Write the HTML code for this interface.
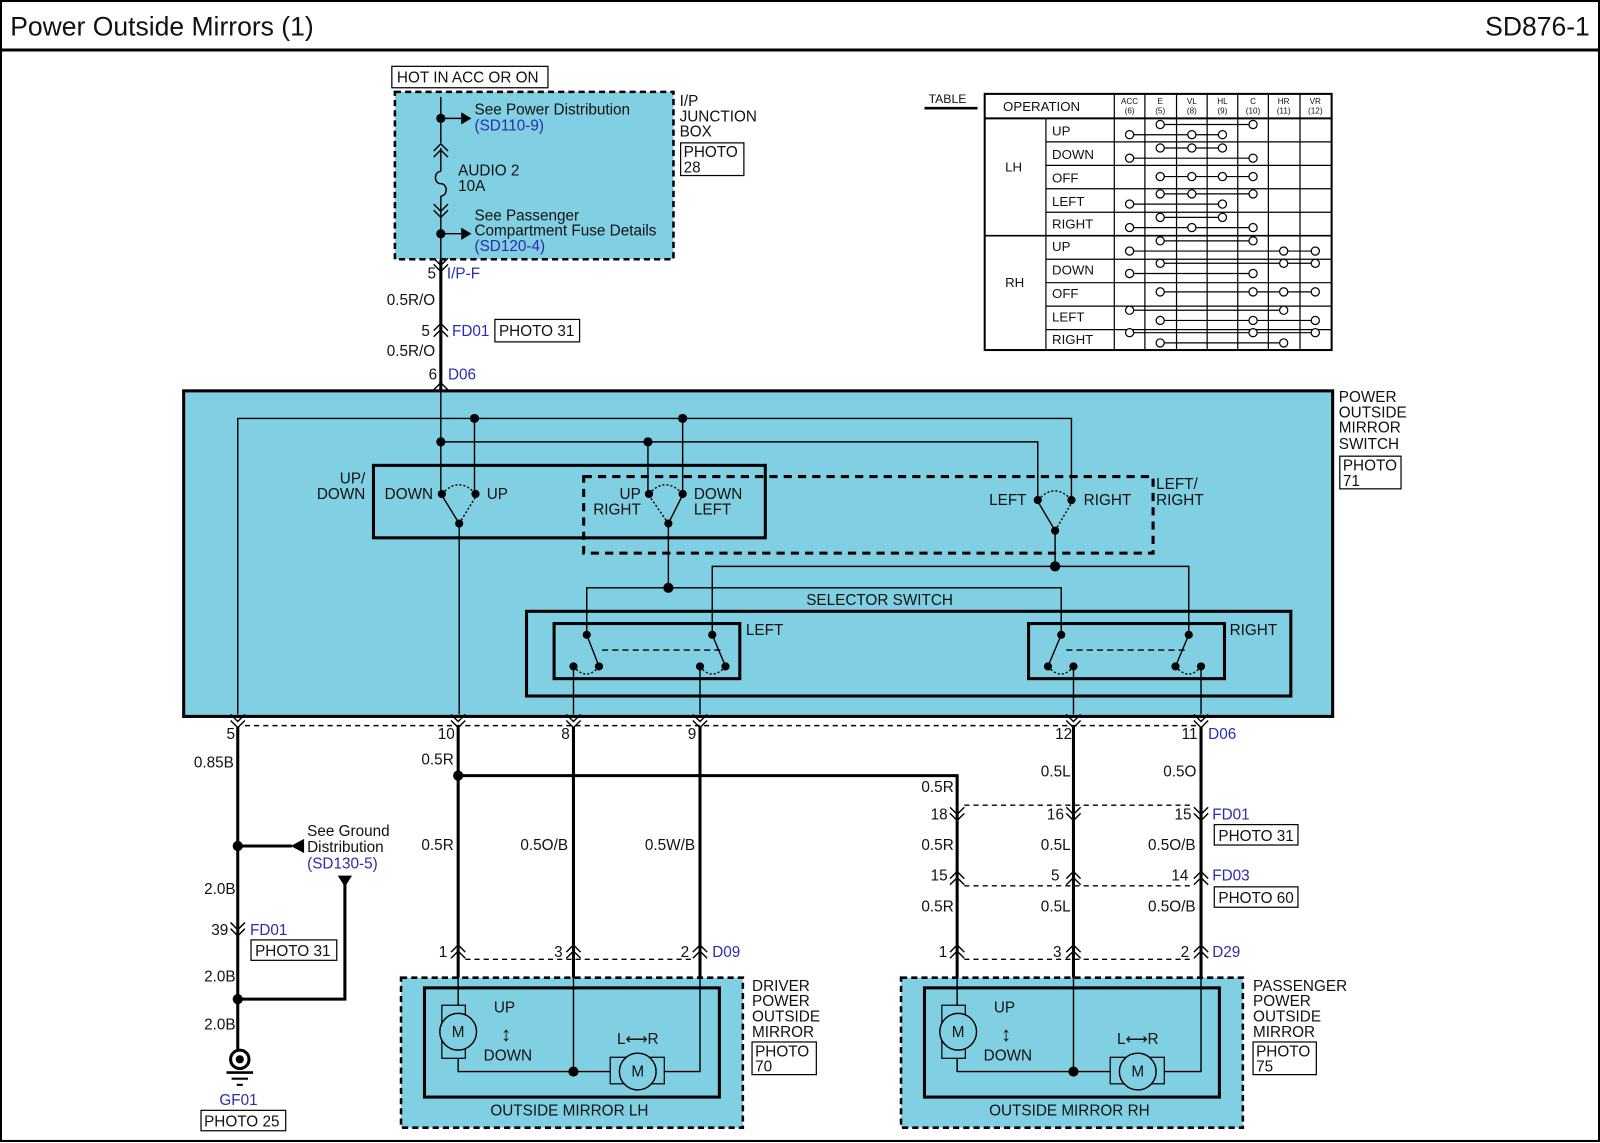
<!DOCTYPE html>
<html><head><meta charset="utf-8"><style>
html,body{margin:0;padding:0;background:#fff}
svg{display:block}
text{font-family:"Liberation Sans",Arial,sans-serif;font-size:15px;fill:#111}
.b{fill:#2b2bb0}
.t{stroke:#000;stroke-width:3;fill:none}
.n{stroke:#000;stroke-width:1.4;fill:none}
.dot{fill:#000}
.oc{fill:#fff;stroke:#000;stroke-width:1.2}
</style></head><body>
<svg width="1600" height="1143" viewBox="0 0 1568 1120" preserveAspectRatio="none" xmlns="http://www.w3.org/2000/svg">
<defs>
<g id="cu"><polyline points="-7,6 0,-1 7,6" class="n" stroke-width="1.6"/><polyline points="-7,12 0,5 7,12" class="n" stroke-width="1.6"/></g>
<g id="cd"><polyline points="-7,-6 0,1 7,-6" class="n" stroke-width="1.6"/><polyline points="-7,-12 0,-5 7,-12" class="n" stroke-width="1.6"/></g>
</defs>
<rect x="0" y="0" width="1568" height="1120" fill="#fff"/>
<rect x="1" y="1" width="1566" height="1117" fill="none" stroke="#000" stroke-width="2"/>
<text x="10" y="35" style="font-size:26px">Power Outside Mirrors (1)</text>
<text x="1558" y="35" text-anchor="end" style="font-size:26px">SD876-1</text>
<line x1="0" y1="49" x2="1568" y2="49" stroke="#000" stroke-width="3"/>

<rect x="384" y="65" width="153" height="21" fill="#fff" stroke="#000" stroke-width="1.2"/>
<text x="389" y="81">HOT IN ACC OR ON</text>
<rect x="387" y="90" width="273" height="164" fill="#80cfe2" stroke="#000" stroke-width="2.5" stroke-dasharray="6,4"/>
<text x="666" y="104">I/P</text><text x="666" y="119">JUNCTION</text><text x="666" y="134">BOX</text>
<rect x="667" y="140" width="62" height="32" fill="#fff" stroke="#000" stroke-width="1.2"/>
<text x="670" y="154">PHOTO</text><text x="670" y="169">28</text>
<line x1="432" y1="95" x2="432" y2="140" class="n"/>
<circle cx="432" cy="116" r="4.5" class="dot"/>
<line x1="432" y1="116" x2="452" y2="116" class="n"/><polygon points="452,110 462,116 452,122" class="dot"/>
<text x="465" y="112">See Power Distribution</text><text x="465" y="128" class="b">(SD110-9)</text>
<use href="#cu" x="432" y="142"/>
<line x1="432" y1="145" x2="432" y2="168" class="n"/>
<path d="M432,168 c-7,0 -7,12 0,12 c7,0 7,12 0,12" class="n"/>
<line x1="432" y1="192" x2="432" y2="255" class="n"/>
<use href="#cd" x="432" y="212"/>
<text x="449" y="172">AUDIO 2</text><text x="449" y="187">10A</text>
<circle cx="432" cy="229" r="4.5" class="dot"/>
<line x1="432" y1="229" x2="452" y2="229" class="n"/><polygon points="452,223 462,229 452,235" class="dot"/>
<text x="465" y="216">See Passenger</text><text x="465" y="231">Compartment Fuse Details</text><text x="465" y="246" class="b">(SD120-4)</text>
<use href="#cd" x="432" y="265"/>
<line x1="432" y1="255" x2="432" y2="383" class="t"/>
<text x="419" y="273">5</text><text x="438" y="273" class="b">I/P-F</text>
<text x="379" y="299">0.5R/O</text>
<use href="#cu" x="432" y="318"/>
<text x="413" y="329">5</text><text x="443" y="329" class="b">FD01</text>
<rect x="485" y="313" width="83" height="22" fill="#fff" stroke="#000" stroke-width="1.2"/><text x="489" y="329">PHOTO 31</text>
<text x="379" y="349">0.5R/O</text>
<use href="#cu" x="432" y="376"/>
<text x="420" y="372">6</text><text x="439" y="372" class="b">D06</text>

<rect x="180" y="383" width="1126" height="319" fill="#80cfe2" stroke="#000" stroke-width="3"/>
<text x="1312" y="394">POWER</text><text x="1312" y="409">OUTSIDE</text><text x="1312" y="424">MIRROR</text><text x="1312" y="440">SWITCH</text>
<rect x="1313" y="447" width="60" height="32" fill="#fff" stroke="#000" stroke-width="1.2"/>
<text x="1316" y="461">PHOTO</text><text x="1316" y="476">71</text>

<polyline points="233,700 233,410 1050,410 1050,490" class="n"/>
<polyline points="432,383 432,484" class="n"/>
<polyline points="432,433 1017,433 1017,490" class="n"/>
<line x1="465" y1="410" x2="465" y2="484" class="n"/>
<line x1="635" y1="433" x2="635" y2="484" class="n"/>
<line x1="669" y1="410" x2="669" y2="484" class="n"/>
<circle cx="465" cy="410" r="4.5" class="dot"/><circle cx="669" cy="410" r="4.5" class="dot"/>
<circle cx="432" cy="433" r="4.5" class="dot"/><circle cx="635" cy="433" r="4.5" class="dot"/>

<rect x="366" y="456" width="384" height="71" fill="none" stroke="#000" stroke-width="3"/>
<rect x="572" y="467" width="558" height="75" fill="none" stroke="#000" stroke-width="3" stroke-dasharray="8,6"/>
<text x="358" y="474" text-anchor="end">UP/</text><text x="358" y="480" text-anchor="end" dy="9">DOWN</text>
<text x="1133" y="479">LEFT/</text><text x="1133" y="495">RIGHT</text>
<text x="377" y="489">DOWN</text><text x="477" y="489">UP</text>
<circle cx="433" cy="484" r="4" class="dot"/><circle cx="466" cy="484" r="4" class="dot"/><circle cx="450" cy="513" r="4" class="dot"/>
<line x1="450" y1="513" x2="434" y2="487" class="n"/>
<path d="M450,513 L466,487 M433,484 Q450,466 466,484" class="n" stroke-dasharray="2,2"/>
<line x1="450" y1="513" x2="450" y2="700" class="n"/>
<text x="628" y="489" text-anchor="end">UP</text><text x="628" y="504" text-anchor="end">RIGHT</text>
<text x="680" y="489">DOWN</text><text x="680" y="504">LEFT</text>
<circle cx="636" cy="484" r="4" class="dot"/><circle cx="669" cy="484" r="4" class="dot"/><circle cx="655" cy="513" r="4" class="dot"/>
<line x1="655" y1="513" x2="668" y2="487" class="n"/>
<path d="M655,513 L637,487 M636,484 Q652,466 669,484" class="n" stroke-dasharray="2,2"/>
<line x1="655" y1="513" x2="655" y2="576" class="n"/>
<text x="1006" y="495" text-anchor="end">LEFT</text><text x="1062" y="495">RIGHT</text>
<circle cx="1017" cy="490" r="4" class="dot"/><circle cx="1050" cy="490" r="4" class="dot"/><circle cx="1034" cy="520" r="4" class="dot"/>
<line x1="1034" y1="520" x2="1018" y2="493" class="n"/>
<path d="M1034,520 L1050,493 M1017,490 Q1034,472 1050,490" class="n" stroke-dasharray="2,2"/>
<line x1="1034" y1="520" x2="1034" y2="555" class="n"/>

<polyline points="575,622 575,576 1040,576 1040,622" class="n"/>
<polyline points="698,622 698,555 1165,555 1165,622" class="n"/>
<circle cx="655" cy="576" r="5" class="dot"/><circle cx="1034" cy="555" r="5" class="dot"/>

<text x="862" y="593" text-anchor="middle">SELECTOR SWITCH</text>
<rect x="516" y="599" width="749" height="83" fill="none" stroke="#000" stroke-width="3"/>
<rect x="543" y="611" width="182" height="54" fill="none" stroke="#000" stroke-width="3"/>
<rect x="1008" y="611" width="192" height="54" fill="none" stroke="#000" stroke-width="3"/>
<text x="731" y="622">LEFT</text><text x="1205" y="622">RIGHT</text>
<line x1="590" y1="637" x2="706" y2="637" class="n" stroke-dasharray="6,4"/>
<line x1="1045" y1="637" x2="1162" y2="637" class="n" stroke-dasharray="6,4"/>
<g>
<circle cx="575" cy="622" r="4" class="dot"/><circle cx="562" cy="653" r="4" class="dot"/><circle cx="587" cy="653" r="4" class="dot"/>
<line x1="575" y1="622" x2="587" y2="653" class="n"/><path d="M562,653 Q575,668 587,653" class="n" stroke-dasharray="2,2"/>
<circle cx="698" cy="622" r="4" class="dot"/><circle cx="686" cy="653" r="4" class="dot"/><circle cx="711" cy="653" r="4" class="dot"/>
<line x1="698" y1="622" x2="711" y2="653" class="n"/><path d="M686,653 Q698,668 711,653" class="n" stroke-dasharray="2,2"/>
<circle cx="1040" cy="622" r="4" class="dot"/><circle cx="1027" cy="653" r="4" class="dot"/><circle cx="1052" cy="653" r="4" class="dot"/>
<line x1="1040" y1="622" x2="1027" y2="653" class="n"/><path d="M1027,653 Q1040,668 1052,653" class="n" stroke-dasharray="2,2"/>
<circle cx="1165" cy="622" r="4" class="dot"/><circle cx="1152" cy="653" r="4" class="dot"/><circle cx="1177" cy="653" r="4" class="dot"/>
<line x1="1165" y1="622" x2="1152" y2="653" class="n"/><path d="M1152,653 Q1165,668 1177,653" class="n" stroke-dasharray="2,2"/>
</g>
<line x1="562" y1="653" x2="562" y2="700" class="n"/><line x1="686" y1="653" x2="686" y2="700" class="n"/>
<line x1="1052" y1="653" x2="1052" y2="700" class="n"/><line x1="1177" y1="653" x2="1177" y2="700" class="n"/>

<line x1="240" y1="711" x2="1172" y2="711" class="n" stroke-dasharray="5,4"/>
<use href="#cd" x="233" y="712"/><use href="#cd" x="449" y="712"/><use href="#cd" x="562" y="712"/><use href="#cd" x="686" y="712"/><use href="#cd" x="1052" y="712"/><use href="#cd" x="1177" y="712"/>
<text x="222" y="724">5</text><text x="429" y="724">10</text><text x="550" y="724">8</text><text x="674" y="724">9</text><text x="1034" y="724">12</text><text x="1158" y="724">11</text><text x="1184" y="724" class="b">D06</text>

<line x1="233" y1="712" x2="233" y2="1028" class="t"/>
<text x="190" y="752">0.85B</text>
<circle cx="233" cy="829" r="5" class="dot"/>
<line x1="233" y1="829" x2="286" y2="829" class="t"/><polygon points="298,822 285,829 298,836" class="dot"/>
<text x="301" y="819">See Ground</text><text x="301" y="835">Distribution</text><text x="301" y="851" class="b">(SD130-5)</text>
<polygon points="331,858 345,858 338,869" class="dot"/>
<polyline points="338,866 338,979 233,979" class="t"/>
<circle cx="233" cy="979" r="5" class="dot"/>
<text x="200" y="876">2.0B</text>
<use href="#cd" x="233" y="916"/>
<text x="207" y="916">39</text><text x="245" y="916" class="b">FD01</text>
<rect x="246" y="921" width="84" height="20" fill="#fff" stroke="#000" stroke-width="1.2"/><text x="250" y="937">PHOTO 31</text>
<text x="200" y="962">2.0B</text><text x="200" y="1009">2.0B</text>
<circle cx="235" cy="1038" r="9" fill="none" stroke="#000" stroke-width="3"/><circle cx="235" cy="1038" r="4" class="dot"/>
<line x1="222" y1="1051" x2="248" y2="1051" stroke="#000" stroke-width="2.5"/>
<line x1="227" y1="1057" x2="243" y2="1057" stroke="#000" stroke-width="2"/>
<line x1="232" y1="1063" x2="238" y2="1063" stroke="#000" stroke-width="2"/>
<text x="215" y="1083" class="b">GF01</text>
<rect x="197" y="1088" width="83" height="20" fill="#fff" stroke="#000" stroke-width="1.2"/><text x="200" y="1104">PHOTO 25</text>

<line x1="449" y1="712" x2="449" y2="925" class="t"/>
<line x1="562" y1="712" x2="562" y2="925" class="t"/>
<line x1="686" y1="712" x2="686" y2="925" class="t"/>
<circle cx="449" cy="760" r="5" class="dot"/>
<polyline points="449,760 938,760 938,790" class="t"/>
<text x="413" y="749">0.5R</text><text x="413" y="833">0.5R</text><text x="510" y="833">0.5O/B</text><text x="632" y="833">0.5W/B</text>
<use href="#cu" x="449" y="927"/><use href="#cu" x="562" y="927"/><use href="#cu" x="686" y="927"/>
<line x1="456" y1="940" x2="680" y2="940" class="n" stroke-dasharray="5,4"/>
<text x="430" y="938">1</text><text x="543" y="938">3</text><text x="667" y="938">2</text><text x="698" y="938" class="b">D09</text>

<line x1="938" y1="790" x2="938" y2="925" class="t"/>
<line x1="1052" y1="712" x2="1052" y2="925" class="t"/>
<line x1="1177" y1="712" x2="1177" y2="925" class="t"/>
<text x="903" y="776">0.5R</text><text x="1020" y="761">0.5L</text><text x="1140" y="761">0.5O</text>
<use href="#cd" x="938" y="803"/><use href="#cd" x="1052" y="803"/><use href="#cd" x="1177" y="803"/>
<line x1="945" y1="789" x2="1170" y2="789" class="n" stroke-dasharray="5,4"/>
<text x="912" y="803">18</text><text x="1026" y="803">16</text><text x="1151" y="803">15</text><text x="1188" y="803" class="b">FD01</text>
<rect x="1190" y="808" width="82" height="20" fill="#fff" stroke="#000" stroke-width="1.2"/><text x="1194" y="824">PHOTO 31</text>
<text x="903" y="833">0.5R</text><text x="1020" y="833">0.5L</text><text x="1125" y="833">0.5O/B</text>
<use href="#cu" x="938" y="855"/><use href="#cu" x="1052" y="855"/><use href="#cu" x="1177" y="855"/>
<line x1="945" y1="868" x2="1170" y2="868" class="n" stroke-dasharray="5,4"/>
<text x="912" y="863">15</text><text x="1030" y="863">5</text><text x="1148" y="863">14</text><text x="1188" y="863" class="b">FD03</text>
<rect x="1190" y="869" width="82" height="20" fill="#fff" stroke="#000" stroke-width="1.2"/><text x="1194" y="885">PHOTO 60</text>
<text x="903" y="893">0.5R</text><text x="1020" y="893">0.5L</text><text x="1125" y="893">0.5O/B</text>
<use href="#cu" x="938" y="927"/><use href="#cu" x="1052" y="927"/><use href="#cu" x="1177" y="927"/>
<line x1="945" y1="940" x2="1170" y2="940" class="n" stroke-dasharray="5,4"/>
<text x="920" y="938">1</text><text x="1032" y="938">3</text><text x="1157" y="938">2</text><text x="1188" y="938" class="b">D29</text>

<rect x="393" y="958" width="335" height="147" fill="#80cfe2" stroke="#000" stroke-width="2.5" stroke-dasharray="6,4"/>
<rect x="416" y="968" width="289" height="107" fill="none" stroke="#000" stroke-width="3"/>
<line x1="449" y1="925" x2="449" y2="958" class="t"/>
<line x1="562" y1="925" x2="562" y2="958" class="t"/>
<line x1="686" y1="925" x2="686" y2="958" class="t"/>
<polyline points="449,958 449,985" class="n"/>
<rect x="433" y="985" width="23" height="52" fill="none" stroke="#000" stroke-width="1.2"/>
<circle cx="449" cy="1011" r="18" fill="#80cfe2" stroke="#000" stroke-width="1.4"/><text x="449" y="1016" text-anchor="middle">M</text>
<polyline points="449,1037 449,1050 598,1050" class="n"/>
<line x1="562" y1="958" x2="562" y2="1050" class="n"/><circle cx="562" cy="1050" r="5" class="dot"/>
<rect x="598" y="1036" width="53" height="26" fill="none" stroke="#000" stroke-width="1.2"/>
<circle cx="625" cy="1050" r="18" fill="#80cfe2" stroke="#000" stroke-width="1.4"/><text x="625" y="1055" text-anchor="middle">M</text>
<polyline points="651,1050 686,1050 686,958" class="n"/>
<text x="484" y="992">UP</text><text x="474" y="1039">DOWN</text><text x="496" y="1020" text-anchor="middle" style="font-size:20px">↕</text>
<text x="625" y="1023" text-anchor="middle">L⟷R</text>
<text x="558" y="1093" text-anchor="middle">OUTSIDE MIRROR LH</text>
<text x="737" y="971">DRIVER</text><text x="737" y="986">POWER</text><text x="737" y="1001">OUTSIDE</text><text x="737" y="1016">MIRROR</text>
<rect x="737" y="1021" width="63" height="32" fill="#fff" stroke="#000" stroke-width="1.2"/><text x="740" y="1035">PHOTO</text><text x="740" y="1050">70</text>

<rect x="883" y="958" width="335" height="147" fill="#80cfe2" stroke="#000" stroke-width="2.5" stroke-dasharray="6,4"/>
<rect x="906" y="968" width="289" height="107" fill="none" stroke="#000" stroke-width="3"/>
<line x1="938" y1="925" x2="938" y2="958" class="t"/>
<line x1="1052" y1="925" x2="1052" y2="958" class="t"/>
<line x1="1177" y1="925" x2="1177" y2="958" class="t"/>
<polyline points="938,958 938,985" class="n"/>
<rect x="923" y="985" width="23" height="52" fill="none" stroke="#000" stroke-width="1.2"/>
<circle cx="939" cy="1011" r="18" fill="#80cfe2" stroke="#000" stroke-width="1.4"/><text x="939" y="1016" text-anchor="middle">M</text>
<polyline points="938,1037 938,1050 1088,1050" class="n"/>
<line x1="1052" y1="958" x2="1052" y2="1050" class="n"/><circle cx="1052" cy="1050" r="5" class="dot"/>
<rect x="1088" y="1036" width="53" height="26" fill="none" stroke="#000" stroke-width="1.2"/>
<circle cx="1115" cy="1050" r="18" fill="#80cfe2" stroke="#000" stroke-width="1.4"/><text x="1115" y="1055" text-anchor="middle">M</text>
<polyline points="1141,1050 1177,1050 1177,958" class="n"/>
<text x="974" y="992">UP</text><text x="964" y="1039">DOWN</text><text x="986" y="1020" text-anchor="middle" style="font-size:20px">↕</text>
<text x="1115" y="1023" text-anchor="middle">L⟷R</text>
<text x="1048" y="1093" text-anchor="middle">OUTSIDE MIRROR RH</text>
<text x="1228" y="971">PASSENGER</text><text x="1228" y="986">POWER</text><text x="1228" y="1001">OUTSIDE</text><text x="1228" y="1016">MIRROR</text>
<rect x="1228" y="1021" width="62" height="32" fill="#fff" stroke="#000" stroke-width="1.2"/><text x="1231" y="1035">PHOTO</text><text x="1231" y="1050">75</text>

<text x="910" y="101" style="font-size:12px">TABLE</text>
<line x1="906" y1="106" x2="958" y2="106" stroke="#000" stroke-width="2.5"/>
<rect x="965" y="92" width="340" height="251" fill="#fff" stroke="#000" stroke-width="2"/>
<g stroke="#000" stroke-width="1.2">
<line x1="965" y1="116" x2="1305" y2="116" stroke-width="2"/>
<line x1="965" y1="231" x2="1305" y2="231" stroke-width="1.6"/>
<line x1="1025" y1="116" x2="1025" y2="343"/>
<line x1="1092" y1="92" x2="1092" y2="343"/><line x1="1122" y1="92" x2="1122" y2="343"/><line x1="1153" y1="92" x2="1153" y2="343"/><line x1="1183" y1="92" x2="1183" y2="343"/><line x1="1213" y1="92" x2="1213" y2="343"/><line x1="1243" y1="92" x2="1243" y2="343"/><line x1="1274" y1="92" x2="1274" y2="343"/>
<line x1="1025" y1="139" x2="1305" y2="139"/><line x1="1025" y1="162" x2="1305" y2="162"/><line x1="1025" y1="185" x2="1305" y2="185"/><line x1="1025" y1="208" x2="1305" y2="208"/>
<line x1="1025" y1="254" x2="1305" y2="254"/><line x1="1025" y1="277" x2="1305" y2="277"/><line x1="1025" y1="300" x2="1305" y2="300"/><line x1="1025" y1="323" x2="1305" y2="323"/>
</g>
<g text-anchor="middle">
<text x="1107" y="102" style="font-size:8px">ACC</text><text x="1107" y="111" style="font-size:8px">(6)</text>
<text x="1137" y="102" style="font-size:8px">E</text><text x="1137" y="111" style="font-size:8px">(5)</text>
<text x="1168" y="102" style="font-size:8px">VL</text><text x="1168" y="111" style="font-size:8px">(8)</text>
<text x="1198" y="102" style="font-size:8px">HL</text><text x="1198" y="111" style="font-size:8px">(9)</text>
<text x="1228" y="102" style="font-size:8px">C</text><text x="1228" y="111" style="font-size:8px">(10)</text>
<text x="1258" y="102" style="font-size:8px">HR</text><text x="1258" y="111" style="font-size:8px">(11)</text>
<text x="1289" y="102" style="font-size:8px">VR</text><text x="1289" y="111" style="font-size:8px">(12)</text>
</g>
<g>
<text x="983" y="109" style="font-size:13px">OPERATION</text>
<text x="985" y="168" style="font-size:13px">LH</text><text x="985" y="281" style="font-size:13px">RH</text>
<text x="1031" y="133" style="font-size:13px">UP</text><text x="1031" y="156" style="font-size:13px">DOWN</text><text x="1031" y="179" style="font-size:13px">OFF</text><text x="1031" y="202" style="font-size:13px">LEFT</text><text x="1031" y="224" style="font-size:13px">RIGHT</text>
<text x="1031" y="246" style="font-size:13px">UP</text><text x="1031" y="269" style="font-size:13px">DOWN</text><text x="1031" y="292" style="font-size:13px">OFF</text><text x="1031" y="315" style="font-size:13px">LEFT</text><text x="1031" y="337" style="font-size:13px">RIGHT</text>
</g>
<g stroke="#000" stroke-width="1.2">
<line x1="1137" y1="122" x2="1228" y2="122"/><line x1="1107" y1="132" x2="1198" y2="132"/>
<line x1="1137" y1="145" x2="1198" y2="145"/><line x1="1107" y1="155" x2="1228" y2="155"/>
<line x1="1137" y1="173" x2="1228" y2="173"/>
<line x1="1137" y1="190" x2="1228" y2="190"/><line x1="1107" y1="200" x2="1198" y2="200"/>
<line x1="1137" y1="213" x2="1198" y2="213"/><line x1="1107" y1="223" x2="1228" y2="223"/>
<line x1="1137" y1="236" x2="1228" y2="236"/><line x1="1107" y1="246" x2="1289" y2="246"/>
<line x1="1137" y1="258" x2="1289" y2="258"/><line x1="1107" y1="268" x2="1228" y2="268"/>
<line x1="1137" y1="286" x2="1289" y2="286"/>
<line x1="1107" y1="304" x2="1258" y2="304"/><line x1="1137" y1="314" x2="1289" y2="314"/>
<line x1="1107" y1="326" x2="1289" y2="326"/><line x1="1137" y1="336" x2="1258" y2="336"/>
</g>
<g>
<circle cx="1137" cy="122" r="4" class="oc"/><circle cx="1228" cy="122" r="4" class="oc"/><circle cx="1107" cy="132" r="4" class="oc"/><circle cx="1168" cy="132" r="4" class="oc"/><circle cx="1198" cy="132" r="4" class="oc"/>
<circle cx="1137" cy="145" r="4" class="oc"/><circle cx="1168" cy="145" r="4" class="oc"/><circle cx="1198" cy="145" r="4" class="oc"/><circle cx="1107" cy="155" r="4" class="oc"/><circle cx="1228" cy="155" r="4" class="oc"/>
<circle cx="1137" cy="173" r="4" class="oc"/><circle cx="1168" cy="173" r="4" class="oc"/><circle cx="1198" cy="173" r="4" class="oc"/><circle cx="1228" cy="173" r="4" class="oc"/>
<circle cx="1137" cy="190" r="4" class="oc"/><circle cx="1168" cy="190" r="4" class="oc"/><circle cx="1228" cy="190" r="4" class="oc"/><circle cx="1107" cy="200" r="4" class="oc"/><circle cx="1198" cy="200" r="4" class="oc"/>
<circle cx="1137" cy="213" r="4" class="oc"/><circle cx="1198" cy="213" r="4" class="oc"/><circle cx="1107" cy="223" r="4" class="oc"/><circle cx="1168" cy="223" r="4" class="oc"/><circle cx="1228" cy="223" r="4" class="oc"/>
<circle cx="1137" cy="236" r="4" class="oc"/><circle cx="1228" cy="236" r="4" class="oc"/><circle cx="1107" cy="246" r="4" class="oc"/><circle cx="1258" cy="246" r="4" class="oc"/><circle cx="1289" cy="246" r="4" class="oc"/>
<circle cx="1137" cy="258" r="4" class="oc"/><circle cx="1258" cy="258" r="4" class="oc"/><circle cx="1289" cy="258" r="4" class="oc"/><circle cx="1107" cy="268" r="4" class="oc"/><circle cx="1228" cy="268" r="4" class="oc"/>
<circle cx="1137" cy="286" r="4" class="oc"/><circle cx="1228" cy="286" r="4" class="oc"/><circle cx="1258" cy="286" r="4" class="oc"/><circle cx="1289" cy="286" r="4" class="oc"/>
<circle cx="1107" cy="304" r="4" class="oc"/><circle cx="1258" cy="304" r="4" class="oc"/><circle cx="1137" cy="314" r="4" class="oc"/><circle cx="1228" cy="314" r="4" class="oc"/><circle cx="1289" cy="314" r="4" class="oc"/>
<circle cx="1107" cy="326" r="4" class="oc"/><circle cx="1228" cy="326" r="4" class="oc"/><circle cx="1289" cy="326" r="4" class="oc"/><circle cx="1137" cy="336" r="4" class="oc"/><circle cx="1258" cy="336" r="4" class="oc"/>
</g>
</svg>
</body></html>
